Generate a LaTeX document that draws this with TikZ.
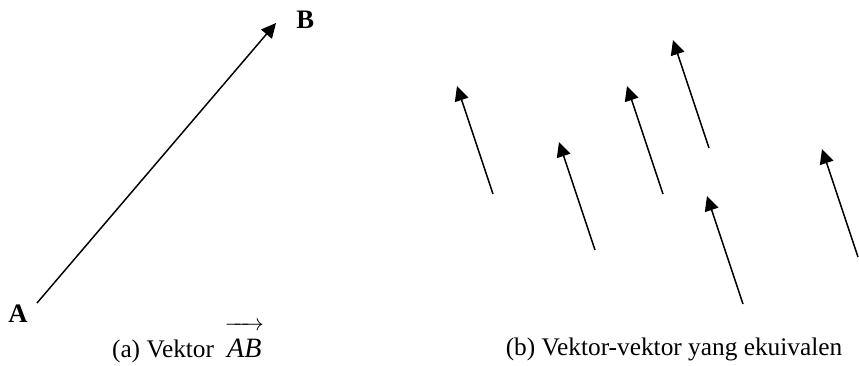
\documentclass[tikz,border=0pt]{standalone}
\usepackage{fontspec}
\setmainfont{Liberation Serif}
\usepackage{amsmath}
\usetikzlibrary{arrows.meta}
\tikzset{
  vec/.style     = {-{Triangle[length=11pt, width=10.5pt]}, line width=1.1pt, black},
  ptlabel/.style = {font=\fontsize{20}{24}\selectfont\bfseries, inner sep=0pt, anchor=base west},
  caption/.style = {font=\fontsize{19}{23}\selectfont, inner sep=0pt, anchor=base},
}

\begin{document}
\begin{tikzpicture}[x=0.75pt, y=-0.75pt]
\useasboundingbox (0,0) rectangle (859,365);

% (a) the vector AB
\node[ptlabel] (A) at (8,322) {A};
\node[ptlabel] (B) at (296,28) {B};
\coordinate (tailA) at (37,303);
\coordinate (headB) at (276,23);
\draw[vec] (tailA) -- (headB);
\node[caption] (capa) at (188,357)
  {(a) Vektor\, $\overrightarrow{\mkern2mu\rule{0pt}{1.05em}\text{\fontsize{21}{24}\selectfont\itshape AB}\mkern2mu}$};

% (b) equivalent vectors
\foreach \i/\x/\y in {1/493/194, 2/595/250, 3/663/194, 4/709/148, 5/743/304, 6/858/257}{
  \coordinate (t\i) at (\x,\y);
  \coordinate (h\i) at (\x-36,\y-108);
  \draw[vec] (t\i) -- (h\i);
}
\node[caption] (capb) at (674,355) {(b) Vektor-vektor yang ekuivalen};
\end{tikzpicture}
\end{document}
